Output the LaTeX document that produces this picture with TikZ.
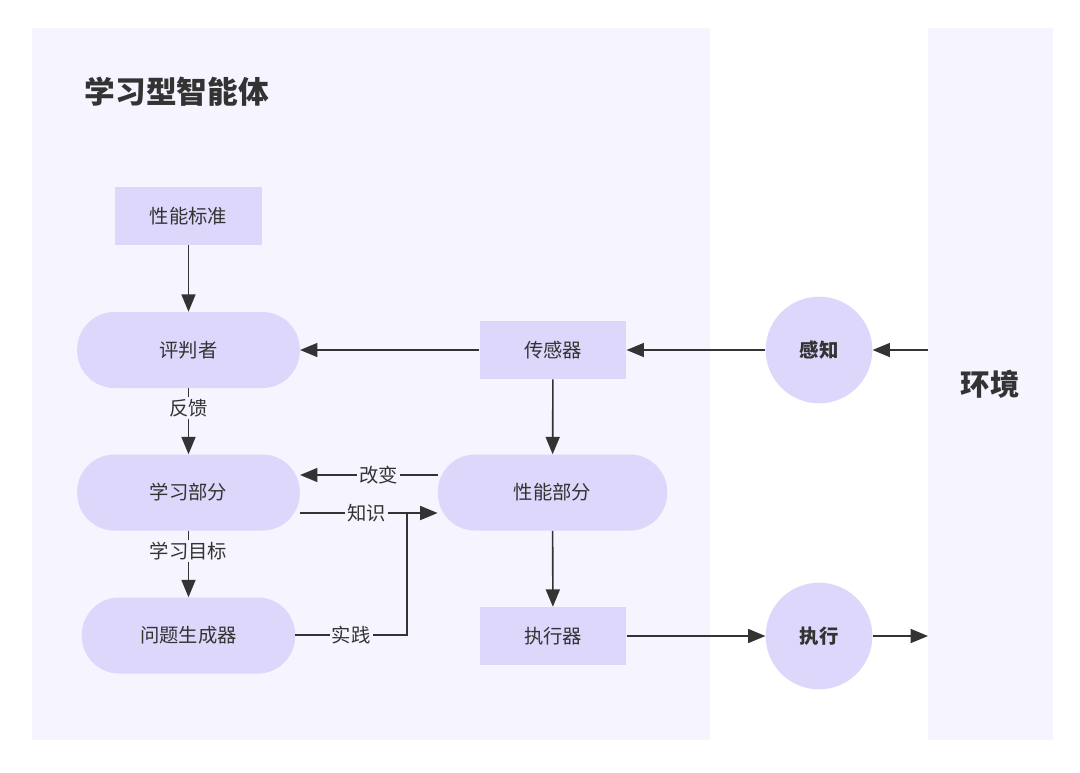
\documentclass[tikz,border=0pt]{standalone}
\usepackage{fontspec}
\setmainfont{Noto Sans CJK SC}
\usetikzlibrary{arrows.meta}
\definecolor{panel}{HTML}{F6F4FE}
\definecolor{nodefill}{HTML}{DCD7FB}
\definecolor{ink}{HTML}{333333}
\begin{document}
\begin{tikzpicture}[x=0.75pt,y=-0.75pt,
  box/.style={fill=nodefill,draw=none,text=ink,font=\fontsize{14.5}{16}\selectfont,minimum width=110pt,minimum height=43.5pt,inner sep=0pt},
  pill/.style={fill=nodefill,draw=none,text=ink,font=\fontsize{14.5}{16}\selectfont,minimum width=167pt,minimum height=57pt,rounded corners=28pt,inner sep=0pt},
  ball/.style={circle,fill=nodefill,draw=none,text=ink,font=\fontsize{14.5}{16}\selectfont\bfseries,minimum size=80pt,inner sep=0pt},
  conn/.style={draw=ink,line width=1.2pt},
  arr/.style={conn,-{Triangle[length=13pt,width=10.5pt]}},
  lbl/.style={fill=panel,text=ink,font=\fontsize{14.5}{16}\selectfont,inner sep=1.5pt}
]
\useasboundingbox (0,0) rectangle (1080,772);
\fill[white] (0,0) rectangle (1080,772);
\fill[panel] (32,28) rectangle (710,740);
\fill[panel] (928,28) rectangle (1053,740);
\node[anchor=west,text=ink,font=\fontsize{23}{26}\selectfont\bfseries] (title) at (80,92) {学习型智能体};
\node[text=ink,font=\fontsize{22}{26}\selectfont\bfseries] (env) at (990,384) {环境};
\coordinate (envin) at (928,350);
\coordinate (envout) at (928,636);

\node[box] (std) at (188.5,216) {性能标准};
\node[pill] (judge) at (188.5,350) {评判者};
\node[box] (sensor) at (553,350) {传感器};
\node[ball] (perceive) at (819,350) {感知};
\node[pill] (learn) at (188.5,492.5) {学习部分};
\node[pill,minimum width=172pt] (perf) at (552.5,492.5) {性能部分};
\node[pill,minimum width=160pt] (gen) at (188.5,635.5) {问题生成器};
\node[box] (act) at (553,636) {执行器};
\node[ball] (exec) at (819,636) {执行};

\draw[arr] (std) -- (judge);
\draw[arr] (envin) -- (perceive);
\draw[arr] (perceive) -- (sensor);
\draw[arr] (sensor) -- (judge);
\draw[arr] (judge) -- node[lbl,pos=0.3] {反馈} (learn);
\draw[arr] (learn) -- node[lbl,pos=0.3] {学习目标} (gen);
\draw[arr] (sensor) -- (perf);
\draw[arr] (perf) -- (act);
\draw[arr] (act) -- (exec);
\draw[arr] (exec) -- (envout);
\draw[arr] (perf.west |- 0,475) -- node[lbl,pos=0.43] {改变} (learn.east |- 0,475);
\coordinate (join) at (407,513);
\draw[arr] (learn.east |- 0,513) -- node[lbl,pos=0.62] {知识} (join) -- (perf.west |- 0,513);
\draw[conn] (gen.east |- 0,635) -- node[lbl,pos=0.5] {实践} (407,635) -- (join);
\end{tikzpicture}
\end{document}
